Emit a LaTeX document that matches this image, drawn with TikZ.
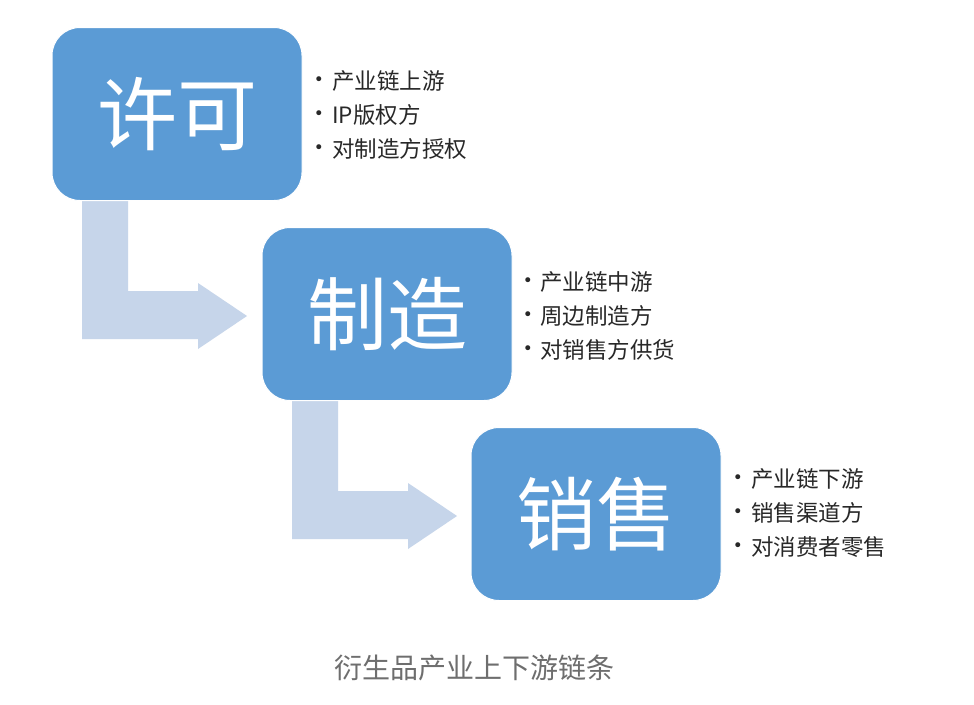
\documentclass[tikz,border=0pt]{standalone}
\usepackage{fontspec}
\setmainfont{Noto Sans CJK SC}
\newfontfamily\bulletfont{DejaVu Sans}
\definecolor{boxblue}{RGB}{91,155,213}
\definecolor{arrowblue}{RGB}{198,213,234}
\definecolor{bullettext}{RGB}{40,40,40}
\definecolor{captiongray}{RGB}{110,110,110}
\begin{document}
\begin{tikzpicture}[x=1pt,y=-1pt,
  stagebox/.style={draw=white,line width=1pt,fill=boxblue,rounded corners=28pt,
    minimum width=250pt,minimum height=173pt,inner sep=0pt,text=white,
    font=\fontsize{80}{80}\selectfont},
  bulletdot/.style={inner sep=0pt,text=bullettext,font=\bulletfont\fontsize{17}{17}\selectfont},
  bulletline/.style={anchor=west,inner sep=0pt,text=bullettext,font=\fontsize{22.5}{22.5}\selectfont},
  bentarrow/.style={fill=arrowblue,draw=none}]
\useasboundingbox (0,0) rectangle (974,704);
\fill[white] (0,0) rectangle (974,704);
% bent arrows
\foreach \dx/\dy in {0/0,210/200}{
  \path[bentarrow,shift={(\dx,\dy)}] (82,195) -- (128,195) -- (128,291) -- (198,291) -- (198,283)
    -- (247,316) -- (198,349) -- (198,339) -- (82,339) -- cycle;
}
% boxes
\node[stagebox] (b1) at (177,114) {许可};
\node[stagebox] (b2) at (387,314) {制造};
\node[stagebox] (b3) at (596,514) {销售};
% bullets box 1
\node[bulletdot] (d11) at (319,81) {•};
\node[bulletdot] (d12) at (319,115) {•};
\node[bulletdot] (d13) at (319,149) {•};
\node[bulletline] (t11) at (332,81) {产业链上游};
\node[bulletline] (t12) at (332,115) {IP版权方};
\node[bulletline] (t13) at (332,149) {对制造方授权};
% bullets box 2
\node[bulletdot] (d21) at (528,282) {•};
\node[bulletdot] (d22) at (528,316) {•};
\node[bulletdot] (d23) at (528,350) {•};
\node[bulletline] (t21) at (540,282) {产业链中游};
\node[bulletline] (t22) at (540,316) {周边制造方};
\node[bulletline] (t23) at (540,350) {对销售方供货};
% bullets box 3
\node[bulletdot] (d31) at (738,479) {•};
\node[bulletdot] (d32) at (738,513) {•};
\node[bulletdot] (d33) at (738,547) {•};
\node[bulletline] (t31) at (751,479) {产业链下游};
\node[bulletline] (t32) at (751,513) {销售渠道方};
\node[bulletline] (t33) at (751,547) {对消费者零售};
% caption
\node[text=captiongray,font=\fontsize{28}{28}\selectfont,inner sep=0pt] (cap) at (474,668) {衍生品产业上下游链条};
\end{tikzpicture}
\end{document}
